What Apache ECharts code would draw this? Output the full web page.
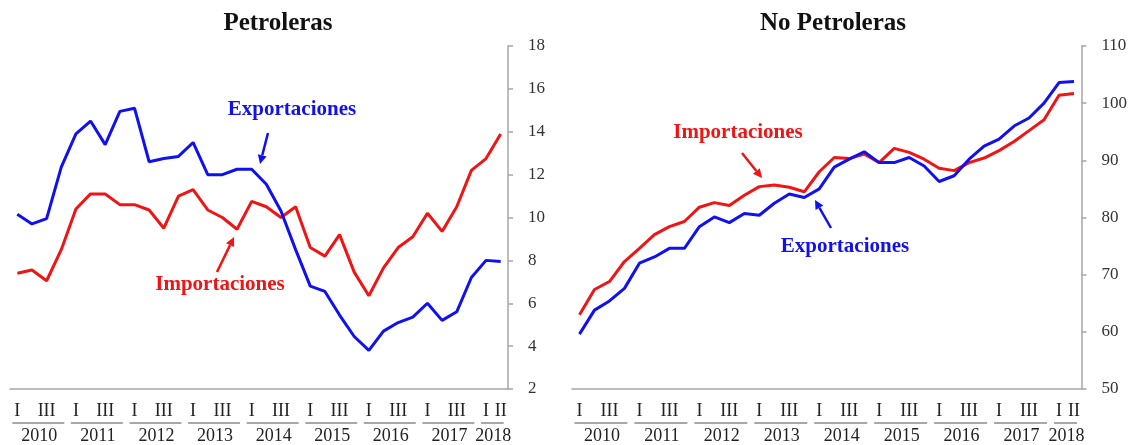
<!DOCTYPE html>
<html>
<head>
<meta charset="utf-8">
<script src="https://cdn.jsdelivr.net/npm/echarts@6/dist/echarts.min.js"></script>
<style>
html,body{margin:0;padding:0;background:#fff;}
#main{width:1130px;height:445px;}
</style>
</head>
<body>
<div id="main"></div>
<script>
// ---- data ----
const years = ['2010','2011','2012','2013','2014','2015','2016','2017','2018'];
const quarterNames = ['I','II','III','IV'];
const nQuarters = 34;
const yLeftTicks = {min: 2, max: 18, interval: 2};
const yRightTicks = {min: 50, max: 110, interval: 10};

const petExport = [10.15, 9.7, 9.95, 12.35, 13.9, 14.5, 13.4, 14.95, 15.1, 12.6, 12.75, 12.85, 13.5, 12.0, 12.0, 12.25, 12.25, 11.55, 10.3, 8.5, 6.8, 6.55, 5.45, 4.45, 3.8, 4.7, 5.1, 5.35, 6.0, 5.2, 5.6, 7.2, 8.0, 7.95];
const petImport = [7.4, 7.55, 7.05, 8.5, 10.4, 11.1, 11.1, 10.6, 10.6, 10.35, 9.5, 11.0, 11.3, 10.35, 10.0, 9.45, 10.75, 10.5, 10.0, 10.5, 8.6, 8.2, 9.2, 7.45, 6.35, 7.65, 8.6, 9.1, 10.2, 9.35, 10.5, 12.2, 12.75, 13.9];
const noPetExport = [59.6, 63.8, 65.4, 67.6, 72.0, 73.1, 74.6, 74.6, 78.4, 80.1, 79.1, 80.7, 80.4, 82.5, 84.1, 83.5, 85.0, 88.8, 90.2, 91.5, 89.6, 89.6, 90.5, 89.0, 86.3, 87.3, 90.2, 92.5, 93.7, 96.0, 97.4, 100.0, 103.6, 103.8];
const noPetImport = [63.0, 67.4, 68.8, 72.3, 74.6, 77.0, 78.4, 79.3, 81.8, 82.6, 82.1, 83.9, 85.4, 85.7, 85.3, 84.5, 88.0, 90.5, 90.3, 91.1, 89.6, 92.1, 91.4, 90.2, 88.6, 88.2, 89.6, 90.4, 91.7, 93.3, 95.2, 97.1, 101.4, 101.7];

// ---- build categories ----
const categories = [];
years.forEach(y => quarterNames.forEach(q => { if (categories.length < nQuarters) categories.push(y + '-' + q); }));
const lastIdx = categories.length - 1;

const FONT = "'Liberation Serif', 'Times New Roman', serif";
const BLUE = '#1010f0';
const RED = '#f01414';
const AXIS_COLOR = '#a6a6a6';

function qLabel(value, idx) {
  const q = value.split('-')[1];
  if (q === 'I') return 'I';
  if (q === 'III') return 'III';
  if (idx === lastIdx) return q;
  return '';
}

function makeX(gi) {
  return {
    type: 'category', gridIndex: gi, data: categories, boundaryGap: true,
    axisLine: {lineStyle: {color: AXIS_COLOR, width: 1.5}},
    axisTick: {show: false},
    axisLabel: {interval: 0, formatter: qLabel, color: '#222', fontFamily: FONT, fontSize: 18, margin: 13}
  };
}
function makeY(gi, t) {
  return {
    type: 'value', gridIndex: gi, position: 'right', min: t.min, max: t.max, interval: t.interval,
    splitLine: {show: false},
    axisLine: {show: true, lineStyle: {color: AXIS_COLOR, width: 1.5}},
    axisTick: {show: true, inside: false, length: 5, lineStyle: {color: AXIS_COLOR, width: 1.5}},
    axisLabel: {color: '#333', fontFamily: FONT, fontSize: 17, margin: 20}
  };
}
function lineSeries(name, data, color, ai) {
  return {
    name, type: 'line', data, xAxisIndex: ai, yAxisIndex: ai, symbol: 'none', smooth: false,
    lineStyle: {color, width: 3}, itemStyle: {color}, z: color === BLUE ? 3 : 2
  };
}

const chart = echarts.init(document.getElementById('main'));
chart.setOption({
  animation: false,
  backgroundColor: '#fff',
  grid: [
    {left: 10, right: 622, top: 46, bottom: 56},
    {left: 572, right: 48, top: 46, bottom: 56}
  ],
  xAxis: [makeX(0), makeX(1)],
  yAxis: [makeY(0, yLeftTicks), makeY(1, yRightTicks)],
  series: [
    lineSeries('Importaciones', petImport, RED, 0),
    lineSeries('Exportaciones', petExport, BLUE, 0),
    lineSeries('Importaciones', noPetImport, RED, 1),
    lineSeries('Exportaciones', noPetExport, BLUE, 1)
  ]
});

// ---- graphics: titles, annotations, year labels ----
const g = [];
function text(x, y, str, color, size) {
  g.push({type: 'text', x, y, style: {text: str, fill: color, font: 'bold ' + size + 'px ' + FONT, textAlign: 'center', textVerticalAlign: 'middle'}, z: 10});
}
function arrow(x1, y1, x2, y2, color) {
  const dx = x2 - x1, dy = y2 - y1, L = Math.sqrt(dx*dx + dy*dy);
  const ux = dx / L, uy = dy / L, hl = 9, hw = 4.5;
  const bx = x2 - ux * hl, by = y2 - uy * hl;
  g.push({type: 'line', shape: {x1, y1, x2: bx, y2: by}, style: {stroke: color, lineWidth: 2.5}, z: 10});
  g.push({type: 'polygon', shape: {points: [[x2, y2], [bx - uy * hw, by + ux * hw], [bx + uy * hw, by - ux * hw]]}, style: {fill: color}, z: 10});
}
text(278, 24, 'Petroleras', '#111', 25);
text(833, 24, 'No Petroleras', '#111', 25);
text(292, 110, 'Exportaciones', BLUE, 21);
arrow(268, 133, 260, 164, BLUE);
text(220, 285, 'Importaciones', RED, 21);
arrow(217, 272, 234, 237, RED);
text(738, 133, 'Importaciones', RED, 21);
arrow(742, 153, 762, 178, RED);
text(845, 247, 'Exportaciones', BLUE, 21);
arrow(831, 228, 815, 200, BLUE);

[0, 1].forEach(ai => {
  years.forEach((y, k) => {
    const first = k * 4;
    if (first > lastIdx) return;
    const last = Math.min(first + 3, lastIdx);
    const x1 = chart.convertToPixel({xAxisIndex: ai}, first);
    const x2 = chart.convertToPixel({xAxisIndex: ai}, last);
    g.push({type: 'line', shape: {x1: x1 - 5, y1: 423, x2: x2 + 3, y2: 423}, style: {stroke: '#8a8a8a', lineWidth: 1.5}});
    g.push({type: 'text', x: (x1 + x2) / 2, y: 436, style: {text: y, fill: '#222', font: '18px ' + FONT, textAlign: 'center', textVerticalAlign: 'middle'}});
  });
});
chart.setOption({graphic: g});
</script>
</body>
</html>
